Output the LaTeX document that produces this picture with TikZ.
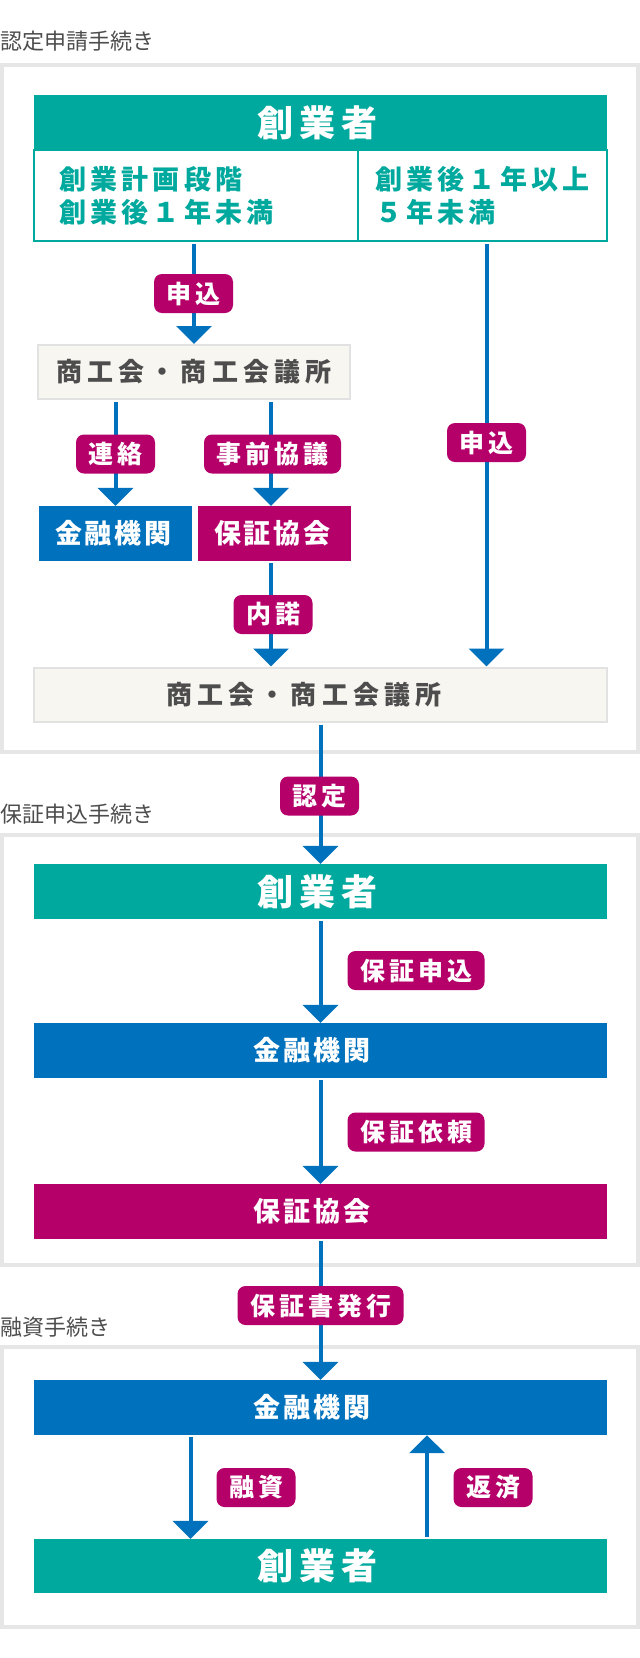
\documentclass[tikz,border=0pt]{standalone}
\usepackage{fontspec}
\usetikzlibrary{arrows.meta}
\newfontfamily\jp{Noto Sans CJK JP}
\newfontfamily\jpHead[LetterSpace=17]{Noto Sans CJK JP}
\newfontfamily\jpBox[LetterSpace=11]{Noto Sans CJK JP}
\newfontfamily\jpCell[LetterSpace=16]{Noto Sans CJK JP}
\newfontfamily\jpShoko[LetterSpace=20]{Noto Sans CJK JP}
\newfontfamily\jpLbl[LetterSpace=16]{Noto Sans CJK JP}
\definecolor{cTeal}{HTML}{00A99D}
\definecolor{cBlue}{HTML}{0071BC}
\definecolor{cMag}{HTML}{B5006A}
\definecolor{cCream}{HTML}{F8F6F0}
\definecolor{cEdge}{HTML}{E2E2E2}
\definecolor{cFrame}{HTML}{E6E6E6}
\definecolor{cText}{HTML}{4D4D4D}
\tikzset{
  frame/.style={draw=cFrame, line width=4pt},
  sectitle/.style={anchor=west, inner sep=0pt, text=cText, font=\jp\fontsize{22}{26}\selectfont},
  trail/.style={execute at end node={\hspace*{#1}}},
  headbox/.style={fill=cTeal, text=white, inner sep=0pt, minimum height=55pt,
    font=\jpHead\bfseries\fontsize{36}{40}\selectfont},
  cellbox/.style={draw=cTeal, line width=1.5pt, text=cTeal, align=left, minimum height=91pt,
    inner ysep=0pt, font=\jpCell\bfseries\fontsize{27}{33}\selectfont},
  bluebox/.style={fill=cBlue, text=white, inner sep=0pt, minimum height=55pt,
    font=\jpBox\bfseries\fontsize{27}{30}\selectfont},
  magbox/.style={fill=cMag, text=white, inner sep=0pt, minimum height=55pt,
    font=\jpBox\bfseries\fontsize{27}{30}\selectfont},
  shokobox/.style={fill=cCream, draw=cEdge, line width=2pt, text=cText, inner sep=0pt, minimum height=54pt,
    font=\jpShoko\bfseries\fontsize{26}{30}\selectfont},
  lbl/.style={fill=cMag, text=white, rounded corners=8pt, minimum height=39pt, inner xsep=12.5pt, inner ysep=0pt,
    font=\jpLbl\bfseries\fontsize{25}{28}\selectfont},
  arr/.style={draw=cBlue, line width=4pt, shorten <=2pt, -{Triangle[width=35pt,length=18pt]}},
}
\begin{document}
\begin{tikzpicture}[x=1pt,y=-1pt]
\useasboundingbox (0,0) rectangle (640,1658);
\fill[white] (0,0) rectangle (640,1658);

% section frames
\draw[frame] (2,65) rectangle (638,751.5);
\draw[frame] (2,835) rectangle (638,1264.5);
\draw[frame] (2,1347) rectangle (638,1627);

% section titles
\node[sectitle] (t1) at (0,41) {認定申請手続き};
\node[sectitle] (t2) at (0,814) {保証申込手続き};
\node[sectitle] (t3) at (0,1327) {融資手続き};

% ---- section 1
\node[headbox, minimum width=573pt, trail=6pt] (sogyo1) at (320.5,122.5) {創業者};
\node[cellbox, minimum width=324pt, text width=274pt, inner xsep=25pt] (cellL) at (196,195.5)
  {創業計画段階\\創業後１年未満};
\node[cellbox, minimum width=249pt, text width=215pt, inner xsep=17pt] (cellR) at (482.5,195.5)
  {創業後１年以上\\５年未満};

\node[shokobox, minimum width=312.5pt] (shoko1) at (194,372) {商工会・商工会議所};
\node[bluebox, minimum width=153pt, trail=4pt] (kinyu1) at (115.5,533.5) {金融機関};
\node[magbox, minimum width=153pt, trail=4pt] (hosho1) at (274.5,533.5) {保証協会};
\node[shokobox, minimum width=573pt, trail=33pt] (shoko2) at (320.5,694.5) {商工会・商工会議所};

\draw[arr] (cellL.south -| shoko1.north) -- (shoko1.north);
\draw[arr] ([xshift=4pt]cellR.south) -- ([xshift=4pt]cellR.south |- shoko2.north);
\draw[arr] (kinyu1.north |- shoko1.south) -- (kinyu1.north);
\draw[arr] ([xshift=-3.5pt]hosho1.north |- shoko1.south) -- ([xshift=-3.5pt]hosho1.north);
\draw[arr] ([xshift=-3.5pt]hosho1.south) -- ([xshift=-3.5pt]hosho1.south |- shoko2.north);

\node[lbl] (l1) at (193.5,293.5) {申込};
\node[lbl] (l2) at (115.5,454) {連絡};
\node[lbl] (l3) at (272.5,454) {事前協議};
\node[lbl] (l4) at (486.5,442.5) {申込};
\node[lbl] (l5) at (273,614.5) {内諾};

% ---- section 2
\node[headbox, minimum width=573pt, trail=6pt] (sogyo2) at (320.5,891.5) {創業者};
\node[bluebox, minimum width=573pt, trail=17pt] (kinyu2) at (320.5,1050.5) {金融機関};
\node[magbox, minimum width=573pt, trail=17pt] (hosho2) at (320.5,1211.5) {保証協会};

\draw[arr] (shoko2.south) -- (sogyo2.north);
\draw[arr] (sogyo2.south) -- (kinyu2.north);
\draw[arr] (kinyu2.south) -- (hosho2.north);

\node[lbl] (l6) at (319.5,796) {認定};
\node[lbl] (l7) at (416,970.5) {保証申込};
\node[lbl] (l8) at (416,1132) {保証依頼};

% ---- section 3
\node[bluebox, minimum width=573pt, trail=17pt] (kinyu3) at (320.5,1407.5) {金融機関};
\node[headbox, minimum width=573pt, trail=6pt, minimum height=54pt] (sogyo3) at (320.5,1566) {創業者};

\draw[arr] (hosho2.south) -- (kinyu3.north);
\draw[arr] ([xshift=-130pt]kinyu3.south) -- ([xshift=-130pt]kinyu3.south |- sogyo3.north);
\draw[arr] ([xshift=106.5pt]sogyo3.north) -- ([xshift=106.5pt]sogyo3.north |- kinyu3.south);

\node[lbl] (l9) at (320.5,1305.5) {保証書発行};
\node[lbl] (l10) at (256,1487.5) {融資};
\node[lbl] (l11) at (493,1487.5) {返済};
\end{tikzpicture}
\end{document}
